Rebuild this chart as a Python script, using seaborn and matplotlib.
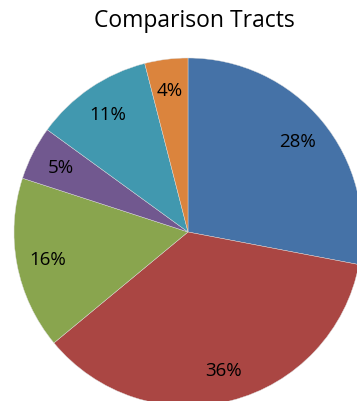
import matplotlib
matplotlib.use('Agg')
import matplotlib.pyplot as plt
import seaborn as sns

# slices, clockwise from 12 o'clock
categories=['A','B','C','D','E','F']
shares=[28,36,16,5,11,4]
colors=['#4572A7','#AA4643','#89A54E','#71588F','#4198AF','#DB843D']

sns.set_theme(style='white')
plt.rcParams['font.family']=['Open Sans','DejaVu Sans']

fig=plt.figure(figsize=(3.57,4.02),dpi=100)
ax=fig.add_axes([14/357,-5/402,348/357,348/402])
wedges,texts,autotexts=ax.pie(shares,labels=None,colors=colors,startangle=90,counterclock=False,
    autopct='%.0f%%',pctdistance=0.82,
    wedgeprops={'edgecolor':'#dcdcdc','linewidth':0.3},
    textprops={'fontsize':13.5,'color':'black'})
ax.set_xlim(-1,1)
ax.set_ylim(-1,1)
ax.set_aspect('equal')
ax.axis('off')

fig.text(194/357,1-21/402,'Comparison Tracts',ha='center',va='center',fontsize=16.5,color='black')

fig.savefig('out.png',dpi=100)
